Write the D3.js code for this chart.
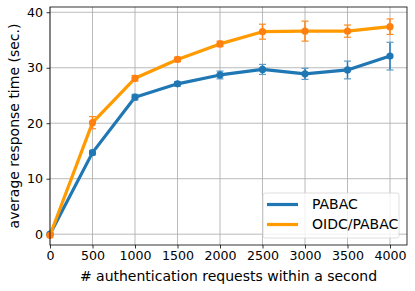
<!DOCTYPE html>
<html>
<head>
<meta charset="utf-8">
<script src="https://cdn.jsdelivr.net/npm/d3@7"></script>
<style>
  body { margin: 0; background: #fff; }
  text { font-family: "DejaVu Sans", sans-serif; }
</style>
</head>
<body>
<div id="chart"></div>
<script>
// chart data
const requests = [0, 500, 1000, 1500, 2000, 2500, 3000, 3500, 4000];
const pabacMean = [0, 14.7, 24.7, 27.1, 28.7, 29.7, 28.9, 29.6, 32.1];
const pabacErr = [0.2, 0.4, 0.5, 0.4, 0.7, 0.9, 1.0, 1.6, 2.5];
const oidcMean = [-0.2, 20.1, 28.1, 31.5, 34.3, 36.5, 36.6, 36.6, 37.4];
const oidcErr = [0.3, 1.1, 0.5, 0.4, 0.5, 1.35, 1.8, 1.1, 1.4];
const xTicks = [0, 500, 1000, 1500, 2000, 2500, 3000, 3500, 4000];
const yTicks = [0, 10, 20, 30, 40];

const series = [
    { name: 'PABAC', mean: pabacMean, err: pabacErr, line: '#1f77b4', mark: '#1f77b4', cap: '#5a9bc9' },
    { name: 'OIDC/PABAC', mean: oidcMean, err: oidcErr, line: '#ff9a00', mark: '#ff8010', cap: '#ff8a20' }
];

const width = 415, height = 291;
const margin = { left: 50, right: 8, top: 7, bottom: 46 };

const svg = d3.select('#chart')
    .append('svg')
    .attr('width', width)
    .attr('height', height);

const x = d3.scaleLinear()
    .domain([0, 4200])
    .range([margin.left, width - margin.right]);

const y = d3.scaleLinear()
    .domain([-1.95, 40.95])
    .range([height - margin.bottom, margin.top]);

// grid
const grid = svg.append('g');
grid.selectAll('.vg')
    .data(xTicks)
    .join('line')
    .attr('x1', d => x(d)).attr('x2', d => x(d))
    .attr('y1', margin.top).attr('y2', height - margin.bottom)
    .attr('stroke', '#b0b0b0').attr('stroke-width', 1).attr('opacity', 0.85);
grid.selectAll('.hg')
    .data(yTicks)
    .join('line')
    .attr('y1', d => y(d)).attr('y2', d => y(d))
    .attr('x1', margin.left).attr('x2', width - margin.right)
    .attr('stroke', '#b0b0b0').attr('stroke-width', 1).attr('opacity', 0.85);

// axes
const xAxis = svg.append('g')
    .attr('transform', `translate(0,${height - margin.bottom})`)
    .call(d3.axisBottom(x).tickValues(xTicks).tickSize(3.5).tickPadding(3).tickFormat(d3.format('d')));
const yAxis = svg.append('g')
    .attr('transform', `translate(${margin.left},0)`)
    .call(d3.axisLeft(y).tickValues(yTicks).tickSize(3.5).tickPadding(3.5));

[xAxis, yAxis].forEach(a => {
    a.select('.domain').remove();
    a.selectAll('text').style('font-size', '12.6px').attr('fill', '#000');
    a.selectAll('line').attr('stroke', '#000').attr('stroke-width', 0.8);
});

// data
const line = d3.line()
    .x((d, i) => x(requests[i]))
    .y(d => y(d));

series.forEach(s => {
    const g = svg.append('g');
    const pts = requests.map((r, i) => ({ r, m: s.mean[i], e: s.err[i] }));

    g.append('path')
        .datum(s.mean)
        .attr('d', line)
        .attr('fill', 'none')
        .attr('stroke', s.line)
        .attr('stroke-width', 3.2)
        .attr('stroke-linejoin', 'round');

    g.selectAll('.eb')
        .data(pts)
        .join('line')
        .attr('x1', d => x(d.r)).attr('x2', d => x(d.r))
        .attr('y1', d => y(d.m - d.e)).attr('y2', d => y(d.m + d.e))
        .attr('stroke', s.mark).attr('stroke-width', 1.5);

    [-1, 1].forEach(sign => {
        g.selectAll('.cap' + sign)
            .data(pts)
            .join('line')
            .attr('x1', d => x(d.r) - 3.5).attr('x2', d => x(d.r) + 3.5)
            .attr('y1', d => y(d.m + sign * d.e)).attr('y2', d => y(d.m + sign * d.e))
            .attr('stroke', s.cap).attr('stroke-width', 1.2);
    });

    g.selectAll('circle')
        .data(pts)
        .join('circle')
        .attr('cx', d => x(d.r))
        .attr('cy', d => y(d.m))
        .attr('r', 3.6)
        .attr('fill', s.mark);
});

// frame
svg.append('rect')
    .attr('x', margin.left).attr('y', margin.top)
    .attr('width', width - margin.left - margin.right)
    .attr('height', height - margin.top - margin.bottom)
    .attr('fill', 'none').attr('stroke', '#000').attr('stroke-width', 0.8);

// axis labels
svg.append('text')
    .attr('x', (margin.left + width - margin.right) / 2)
    .attr('y', 281)
    .attr('text-anchor', 'middle')
    .style('font-size', '14px')
    .text('# authentication requests within a second');

svg.append('text')
    .attr('transform', `translate(19,${(margin.top + height - margin.bottom) / 2}) rotate(-90)`)
    .attr('text-anchor', 'middle')
    .style('font-size', '14px')
    .text('average response time (sec.)');

// legend
const legend = svg.append('g')
    .attr('transform', 'translate(263,193)');

legend.append('rect')
    .attr('width', 136).attr('height', 45)
    .attr('rx', 2.5)
    .attr('fill', '#fff').attr('fill-opacity', 0.8)
    .attr('stroke', '#d6d6d6').attr('stroke-width', 0.8);

const items = legend.selectAll('.legend-item')
    .data(series)
    .join('g')
    .attr('transform', (d, i) => `translate(0,${11.5 + i * 20})`);

items.append('line')
    .attr('x1', 4).attr('x2', 35)
    .attr('stroke', d => d.line)
    .attr('stroke-width', 3.2);

items.append('text')
    .attr('x', 49)
    .attr('dy', '0.35em')
    .style('font-size', '14px')
    .text(d => d.name);
</script>
</body>
</html>
